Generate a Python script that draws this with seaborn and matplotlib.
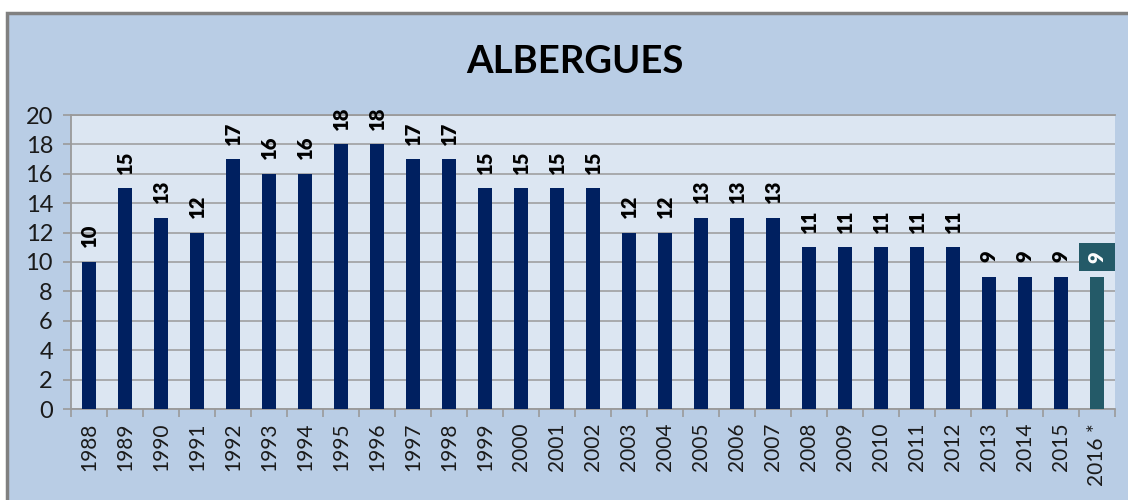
import matplotlib
matplotlib.use("Agg")
import matplotlib.pyplot as plt
from matplotlib.patches import Rectangle
import seaborn as sns
import pandas as pd
import numpy as np

years = ["1988", "1989", "1990", "1991", "1992", "1993", "1994", "1995", "1996", "1997",
         "1998", "1999", "2000", "2001", "2002", "2003", "2004", "2005", "2006", "2007",
         "2008", "2009", "2010", "2011", "2012", "2013", "2014", "2015", "2016 *"]
values = [10, 15, 13, 12, 17, 16, 16, 18, 18, 17,
          17, 15, 15, 15, 15, 12, 12, 13, 13, 13,
          11, 11, 11, 11, 11, 9, 9, 9, 9]
title = "ALBERGUES"
yticks = [0, 2, 4, 6, 8, 10, 12, 14, 16, 18, 20]

navy = "#002060"
teal = "#245a68"
outer_bg = "#b9cde5"
plot_bg = "#dce6f2"
grid_c = "#9a9a9a"

sns.set_theme(style="white")
plt.rcParams['font.family'] = ['Lato', 'DejaVu Sans']

df = pd.DataFrame({"year": years, "value": values})
colors = [navy] * (len(years) - 1) + [teal]

fig = plt.figure(figsize=(11.28, 5.0), dpi=100)
fig.patch.set_facecolor("white")
# chart area frame
fig.patches.append(Rectangle((7 / 1128, -0.1), 1.2, 1 - 13 / 500 + 0.1,
                             transform=fig.transFigure, facecolor=outer_bg,
                             edgecolor="#808080", linewidth=2.5, zorder=-10))

ax = fig.add_axes([71 / 1128, 1 - 409 / 500, (1115 - 71) / 1128, (409 - 115) / 500])
ax.set_facecolor(plot_bg)

sns.barplot(data=df, x="year", y="value", hue="year", palette=colors,
            legend=False, width=0.38, ax=ax, saturation=1, zorder=3,
            linewidth=0, edgecolor="none")

ax.set_ylim(0, 20)
ax.set_xlim(-0.5, len(years) - 0.5)
ax.set_yticks(yticks)
ax.yaxis.grid(True, color=grid_c, linewidth=1.1, zorder=0)
ax.set_axisbelow(True)
ax.set_xlabel("")
ax.set_ylabel("")

for s in ["left", "bottom", "top"]:
    ax.spines[s].set_visible(True)
    ax.spines[s].set_color(grid_c)
    ax.spines[s].set_linewidth(1.3)
ax.spines["right"].set_visible(False)

ax.tick_params(axis="y", which="major", length=6, width=1.2, color=grid_c,
               labelsize=17, pad=7, left=True, labelcolor="#1a1a1a")
ax.set_xticks(range(len(years)))
ax.set_xticklabels(years, rotation=90, fontsize=15, color="#1a1a1a")
ax.tick_params(axis="x", which="major", length=0, pad=10)
ax.set_xticks(np.arange(-0.5, len(years), 1.0), minor=True)
ax.tick_params(axis="x", which="minor", length=6, width=1.2, color=grid_c, bottom=True)

for i, (v, y) in enumerate(zip(values, years)):
    if i == len(years) - 1:
        ax.annotate(str(v), (i, v), xytext=(0, 10), textcoords="offset points",
                    ha="center", va="bottom", rotation=90, fontsize=14.5,
                    fontweight="heavy", color="white",
                    bbox=dict(boxstyle="square,pad=0.4", facecolor=teal, edgecolor="none"),
                    zorder=5)
    else:
        ax.annotate(str(v), (i, v), xytext=(0, 10.5), textcoords="offset points",
                    ha="center", va="bottom", rotation=90, fontsize=14.5,
                    fontweight="heavy", color="black", zorder=5)

fig.text(575 / 1128, 1 - 62 / 500, title, ha="center", va="center",
         fontsize=27.5, fontweight="bold", color="black")

fig.savefig("out.png", dpi=100, facecolor=fig.get_facecolor())
